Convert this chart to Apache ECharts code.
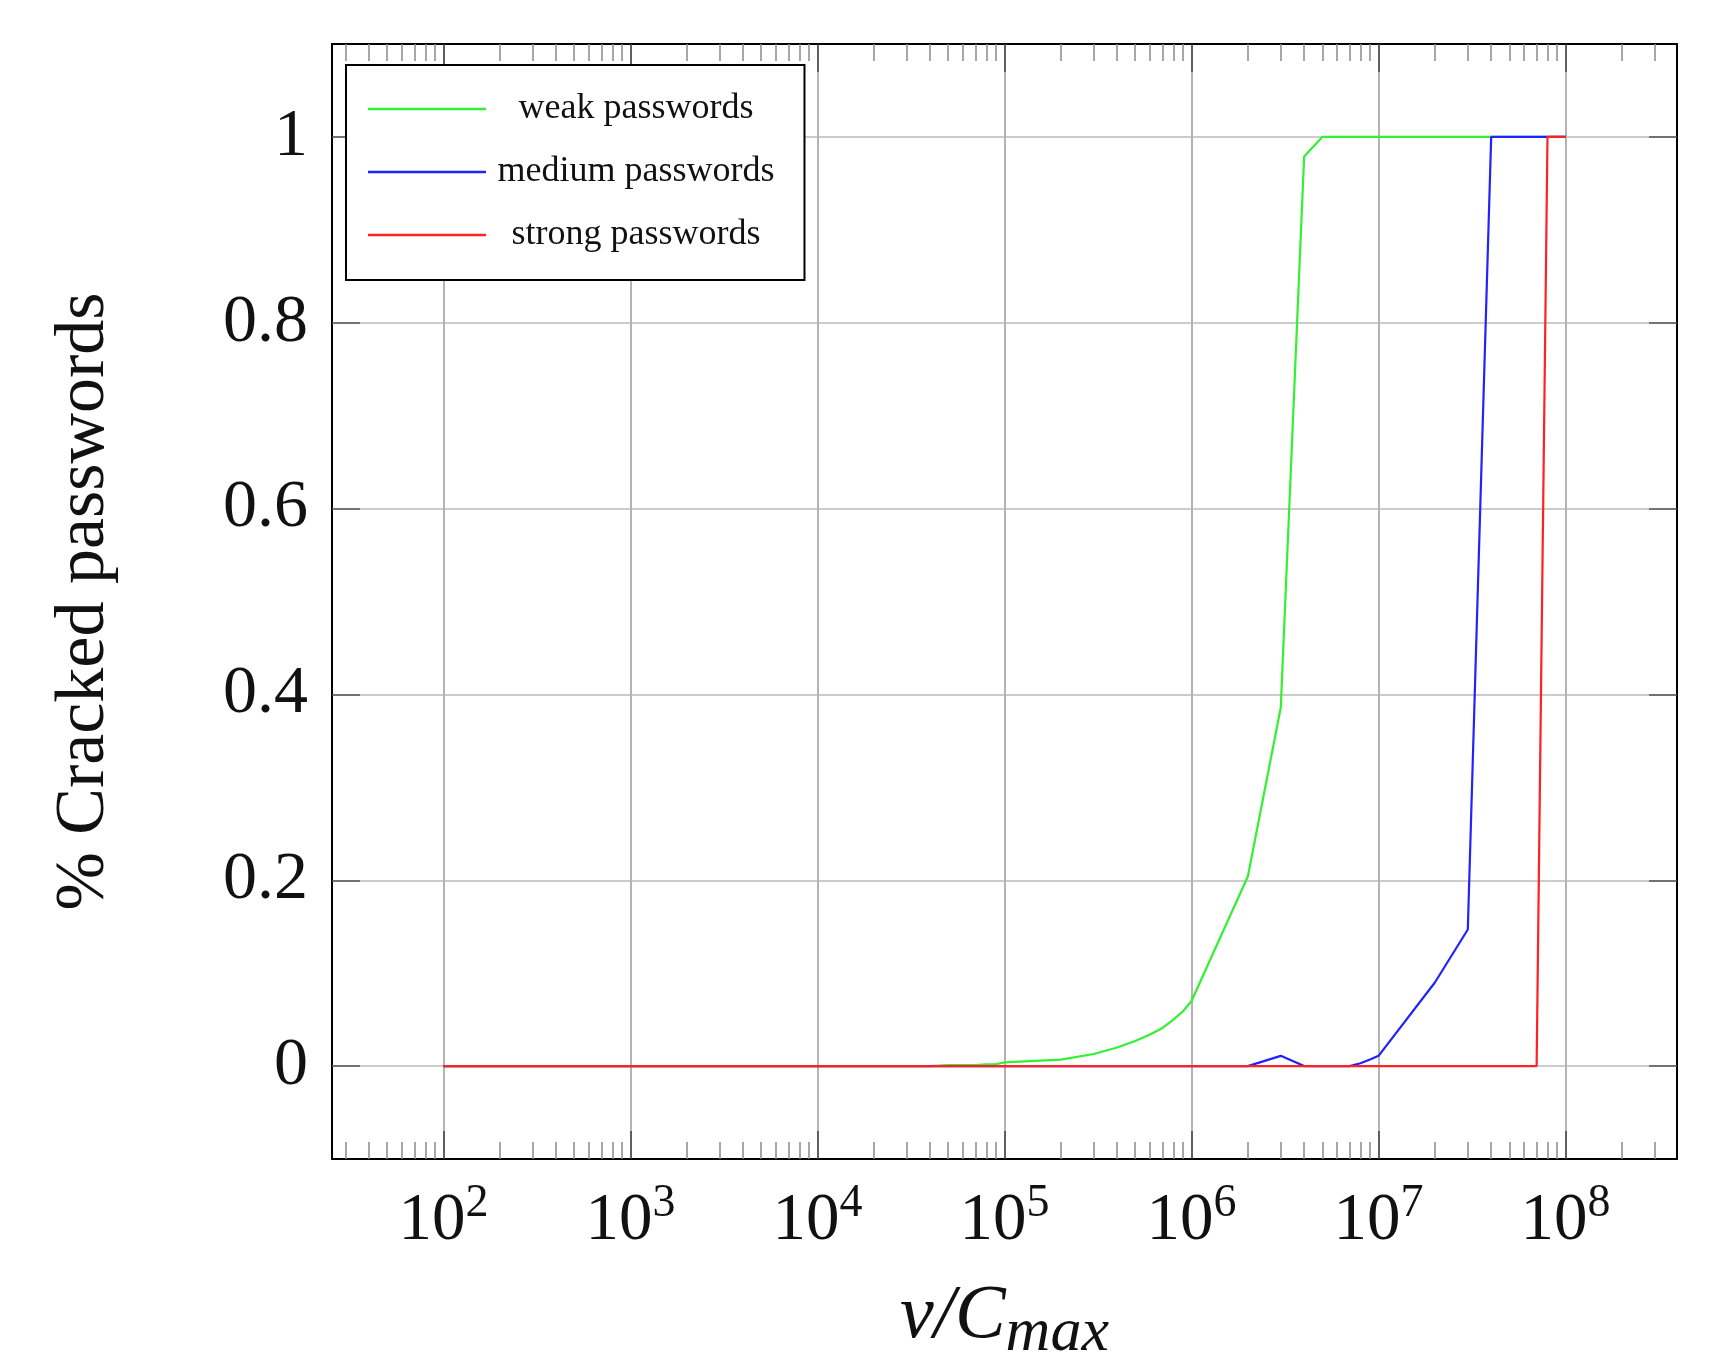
<!DOCTYPE html>
<html>
<head>
<meta charset="utf-8">
<script src="https://cdn.jsdelivr.net/npm/echarts@6/dist/echarts.min.js"></script>
<style>
html,body{margin:0;padding:0;background:#ffffff;}
#chart{width:1712px;height:1359px;}
</style>
</head>
<body>
<div id="chart"></div>
<script>
// ---- data ----
const xValues = [
  100,200,300,400,500,600,700,800,900,
  1e3,2e3,3e3,4e3,5e3,6e3,7e3,8e3,9e3,
  1e4,2e4,3e4,4e4,5e4,6e4,7e4,8e4,9e4,
  1e5,2e5,3e5,4e5,5e5,6e5,7e5,8e5,9e5,
  1e6,2e6,3e6,4e6,5e6,6e6,7e6,8e6,9e6,
  1e7,2e7,3e7,4e7,5e7,6e7,7e7,8e7,9e7,
  1e8
];
const weakValues = [
  0,0,0,0,0,0,0,0,0,
  0,0,0,0,0,0,0,0,0,
  0,0,0,0,0.001,0.001,0.001,0.002,0.002,
  0.004,0.007,0.013,0.02,0.027,0.034,0.041,0.05,0.059,
  0.07,0.204,0.386,0.979,1,1,1,1,1,
  1,1,1,1,1,1,1,1,1,
  1
];
const mediumValues = [
  0,0,0,0,0,0,0,0,0,
  0,0,0,0,0,0,0,0,0,
  0,0,0,0,0,0,0,0,0,
  0,0,0,0,0,0,0,0,0,
  0,0,0.011,0,0,0,0,0.003,0.007,
  0.011,0.09,0.147,1,1,1,1,1,1,
  1
];
const strongValues = [
  0,0,0,0,0,0,0,0,0,
  0,0,0,0,0,0,0,0,0,
  0,0,0,0,0,0,0,0,0,
  0,0,0,0,0,0,0,0,0,
  0,0,0,0,0,0,0,0,0,
  0,0,0,0,0,0,0,1,1,
  1
];
const seriesNames = ['weak passwords', 'medium passwords', 'strong passwords'];
const seriesColors = ['#33f033', '#2222ff', '#ff2222'];
const xMajorTicks = [1e2, 1e3, 1e4, 1e5, 1e6, 1e7, 1e8];
const xMinorMultipliers = [2, 3, 4, 5, 6, 7, 8, 9];
const yTicks = [0, 0.2, 0.4, 0.6, 0.8, 1];
const yAxisTitle = '% Cracked passwords';

// axis extents
const X_MIN = Math.pow(10, 1.4044);
const X_MAX = Math.pow(10, 8.5956);
const Y_MIN = -0.1, Y_MAX = 1.1;

const xMinorTicks = [];
for (let e = 1; e <= 8; e++) {
  xMinorMultipliers.forEach(m => xMinorTicks.push(m * Math.pow(10, e)));
}

const FONT = 'Liberation Serif';

function pairs(ys) { return xValues.map((x, i) => [x, ys[i]]); }

const chart = echarts.init(document.getElementById('chart'), null, {renderer: 'canvas'});

const baseX = {
  type: 'log', logBase: 10, min: X_MIN, max: X_MAX, gridIndex: 0
};

const option = {
  animation: false,
  backgroundColor: '#ffffff',
  grid: {left: 332, right: 35, top: 44, bottom: 200, containLabel: false, outerBoundsMode: 'none'},
  legend: {
    orient: 'vertical',
    left: 346, top: 65,
    padding: [26, 30, 27, 22],
    borderColor: '#000', borderWidth: 2,
    backgroundColor: '#ffffff',
    icon: 'rect',
    itemWidth: 118, itemHeight: 2.4, itemGap: 27,
    data: seriesNames,
    formatter: n => '{c|' + n + '}',
    textStyle: {
      fontFamily: FONT, fontSize: 36, color: '#111',
      rich: {c: {width: 290, align: 'center', fontFamily: FONT, fontSize: 36, color: '#111'}}
    }
  },
  xAxis: [
    Object.assign({}, baseX, {
      position: 'bottom',
      name: '{a|v/C}{b|max}',
      nameLocation: 'middle',
      nameGap: 110,
      nameTextStyle: {
        rich: {
          a: {fontFamily: FONT, fontStyle: 'italic', fontSize: 76, color: '#111'},
          b: {fontFamily: FONT, fontStyle: 'italic', fontSize: 62, color: '#111', padding: [34, 0, 0, 0]}
        }
      },
      axisLine: {show: true, onZero: false, lineStyle: {color: '#000', width: 2}},
      axisTick: {show: true, inside: true, length: 28, customValues: xMajorTicks, lineStyle: {color: '#444', width: 1.5}},
      axisLabel: {
        show: true, margin: 22, customValues: xMajorTicks,
        formatter: v => '{b|10}{s|' + Math.round(Math.log10(v)) + '}',
        rich: {
          b: {fontFamily: FONT, fontSize: 67, color: '#111'},
          s: {fontFamily: FONT, fontSize: 46, color: '#111', padding: [0, 0, 34, 0]}
        }
      },
      splitLine: {show: true, lineStyle: {color: '#b4b4b4', width: 2}}
    }),
    Object.assign({}, baseX, {
      position: 'bottom',
      axisLine: {show: false, onZero: false},
      axisTick: {show: true, inside: true, length: 17, customValues: xMinorTicks, lineStyle: {color: '#8a8a8a', width: 1.5}},
      axisLabel: {show: false},
      splitLine: {show: false}
    }),
    Object.assign({}, baseX, {
      position: 'top',
      axisLine: {show: true, onZero: false, lineStyle: {color: '#000', width: 2}},
      axisTick: {show: true, inside: true, length: 28, customValues: xMajorTicks, lineStyle: {color: '#444', width: 1.5}},
      axisLabel: {show: false},
      splitLine: {show: false}
    }),
    Object.assign({}, baseX, {
      position: 'top',
      axisLine: {show: false, onZero: false},
      axisTick: {show: true, inside: true, length: 17, customValues: xMinorTicks, lineStyle: {color: '#8a8a8a', width: 1.5}},
      axisLabel: {show: false},
      splitLine: {show: false}
    })
  ],
  yAxis: [
    {
      type: 'value', min: Y_MIN, max: Y_MAX, position: 'left', gridIndex: 0,
      name: yAxisTitle,
      nameLocation: 'middle',
      nameRotate: 90,
      nameGap: 212,
      nameTextStyle: {fontFamily: FONT, fontSize: 70, color: '#111'},
      axisLine: {show: true, onZero: false, lineStyle: {color: '#000', width: 2}},
      axisTick: {show: true, inside: true, length: 28, customValues: yTicks, lineStyle: {color: '#555', width: 1.5}},
      axisLabel: {
        show: true, margin: 24, customValues: yTicks,
        fontFamily: FONT, fontSize: 68, color: '#111',
        formatter: v => String(Math.round(v * 10) / 10)
      },
      splitLine: {show: true, lineStyle: {color: '#cccccc', width: 2}}
    },
    {
      type: 'value', min: Y_MIN, max: Y_MAX, position: 'right', gridIndex: 0,
      axisLine: {show: true, onZero: false, lineStyle: {color: '#000', width: 2}},
      axisTick: {show: true, inside: true, length: 28, customValues: yTicks, lineStyle: {color: '#555', width: 1.5}},
      axisLabel: {show: false},
      splitLine: {show: false}
    }
  ],
  series: [weakValues, mediumValues, strongValues].map((vals, i) => ({
    name: seriesNames[i],
    type: 'line',
    xAxisIndex: 0, yAxisIndex: 0,
    data: pairs(vals),
    showSymbol: false,
    symbol: 'none',
    smooth: false,
    lineStyle: {color: seriesColors[i], width: 2.2},
    itemStyle: {color: seriesColors[i]},
    z: 3 + i
  }))
};

chart.setOption(option);
</script>
</body>
</html>
